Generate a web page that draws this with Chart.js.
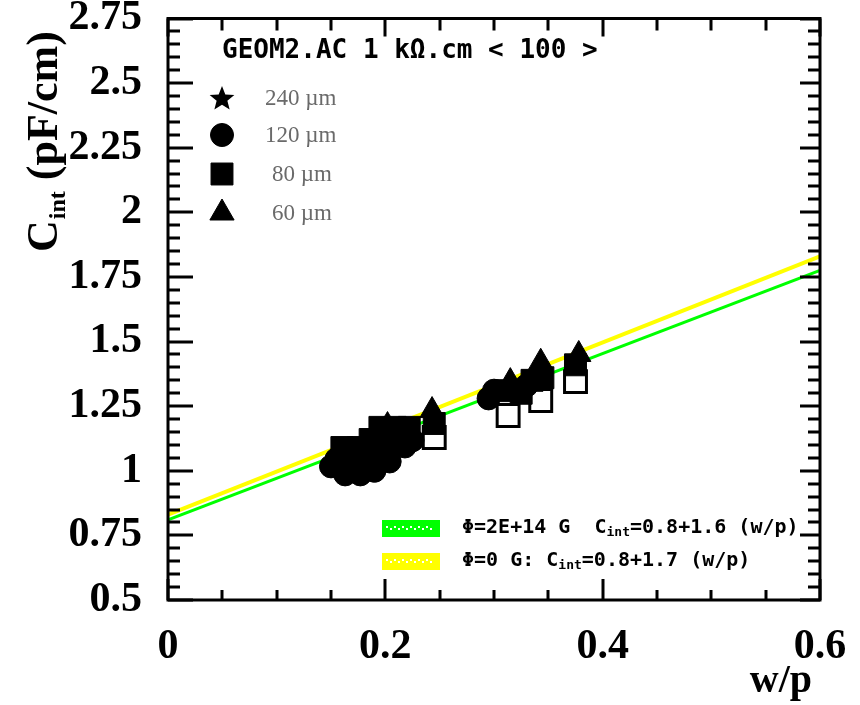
<!DOCTYPE html>
<html>
<head>
<meta charset="utf-8">
<script src="https://cdn.jsdelivr.net/npm/chart.js@4/dist/chart.umd.min.js"></script>
<style>
html, body { margin: 0; padding: 0; background: #fff; }
canvas { display: block; }
</style>
</head>
<body>
<canvas id="chart" width="860" height="705"></canvas>
<script>
// C_int versus w/p, one array pair per strip pitch
const pitch240X = [0.185, 0.200, 0.170];
const pitch240Y = [1.07, 1.12, 1.04];

const pitch120X = [0.150, 0.163, 0.177, 0.191, 0.204, 0.218, 0.225, 0.206, 0.177, 0.163,
                   0.155, 0.170, 0.185, 0.190, 0.198, 0.213, 0.295, 0.300, 0.330];
const pitch120Y = [1.017, 0.986, 0.986, 1.017, 1.036, 1.094, 1.118, 1.098, 1.060, 1.060,
                   1.045, 1.025, 1.040, 1.000, 1.070, 1.130, 1.28, 1.31, 1.33];

const pitch80X = [0.160, 0.175, 0.186, 0.195, 0.209, 0.222, 0.190, 0.209, 0.245,
                  0.310, 0.325, 0.335, 0.345, 0.375];
const pitch80Y = [1.090, 1.090, 1.121, 1.168, 1.168, 1.168, 1.079, 1.118, 1.183,
                  1.31, 1.30, 1.35, 1.36, 1.41];

const pitch60X = [0.202, 0.243, 0.315, 0.343, 0.378];
const pitch60Y = [1.175, 1.233, 1.345, 1.42, 1.45];

// irradiated strips (open markers)
const irradX = [0.245, 0.313, 0.343, 0.375];
const irradY = [1.129, 1.214, 1.272, 1.345];

// linear fits, end points at w/p = 0 and 0.6
const fitX = [0, 0.6];
const fitIrradY = [0.81, 1.775];
const fitCleanY = [0.83, 1.83];

const yTicks = [0.5, 0.75, 1, 1.25, 1.5, 1.75, 2, 2.25, 2.5, 2.75];
const xTicks = [0, 0.2, 0.4, 0.6];

const legendLabels = ["240 \u00b5m", "120 \u00b5m", "80 \u00b5m", "60 \u00b5m"];
const titleText = "GEOM2.AC 1 k\u03a9.cm < 100 >";

const zip = (xs, ys) => xs.map((x, i) => ({ x, y: ys[i] }));

// filled five point star for the 240 um marker
function makeStar(size) {
    const c = document.createElement("canvas");
    c.width = size; c.height = size;
    const g = c.getContext("2d");
    const cx = size / 2, cy = size / 2 + 1;
    const ro = size / 2, ri = size / 4.6;
    g.beginPath();
    for (let i = 0; i < 10; i++) {
        const r = i % 2 ? ri : ro;
        const a = -Math.PI / 2 + i * Math.PI / 5;
        g.lineTo(cx + r * Math.cos(a), cy + r * Math.sin(a));
    }
    g.closePath();
    g.fillStyle = "#000";
    g.fill();
    return c;
}
const starImg = makeStar(26);

const black = { backgroundColor: "#000", borderColor: "#000", borderWidth: 1, showLine: false };

const datasets = [
    { label: legendLabels[0], data: zip(pitch240X, pitch240Y), pointStyle: starImg, pointRadius: 12, order: 1, ...black },
    { label: legendLabels[1], data: zip(pitch120X, pitch120Y), pointStyle: "circle", pointRadius: 11.5, order: 1, ...black },
    { label: legendLabels[2], data: zip(pitch80X, pitch80Y), pointStyle: "rect", pointRadius: 15.5, order: 1, ...black },
    { label: legendLabels[3], data: zip(pitch60X, pitch60Y), pointStyle: "triangle", pointRadius: 14, order: 1, ...black },
    {
        label: "irradiated", data: zip(irradX, irradY), pointStyle: "rect", pointRadius: 15.5,
        backgroundColor: "#fff", borderColor: "#000", borderWidth: 3, showLine: false, order: 2
    },
    {
        label: "fit 0", data: zip(fitX, fitCleanY), showLine: true, pointRadius: 0,
        borderColor: "#ffff00", borderWidth: 4, order: 4
    },
    {
        label: "fit irr", data: zip(fitX, fitIrradY), showLine: true, pointRadius: 0,
        borderColor: "#00ff00", borderWidth: 3, order: 3
    }
];

const SERIF = "'Liberation Serif', 'Times New Roman', serif";
const MONO = "'DejaVu Sans Mono', monospace";

const fmtTick = (v) => String(+Number(v).toFixed(2));

// ROOT-like frame with ticks pointing inwards
const framePlugin = {
    id: "frame",
    afterDraw(chart) {
        const { ctx, chartArea: a, scales: { x, y } } = chart;
        ctx.save();
        ctx.strokeStyle = "#000";
        ctx.lineWidth = 3;
        ctx.beginPath();
        for (let i = 0; i <= 45; i++) {
            const py = Math.round(y.getPixelForValue(0.5 + i * 0.05));
            const major = i % 5 === 0;
            ctx.moveTo(a.left, py); ctx.lineTo(a.left + (major ? 25 : 12), py);
            ctx.moveTo(a.right, py); ctx.lineTo(a.right - (major ? 20 : 12), py);
        }
        for (let i = 0; i <= 12; i++) {
            const px = Math.round(x.getPixelForValue(i * 0.05));
            const major = i % 4 === 0;
            ctx.moveTo(px, a.bottom); ctx.lineTo(px, a.bottom - (major ? 21 : 10));
            ctx.moveTo(px, a.top); ctx.lineTo(px, a.top + (major ? 18 : 12));
        }
        ctx.stroke();
        ctx.strokeRect(a.left, a.top, a.right - a.left, a.bottom - a.top);
        ctx.restore();
    }
};

// titles, marker legend and fit legend
const textPlugin = {
    id: "texts",
    afterDatasetsDraw(chart) {
        const ctx = chart.ctx;
        ctx.save();

        // y axis title, rotated
        ctx.save();
        ctx.translate(57, 252);
        ctx.rotate(-Math.PI / 2);
        ctx.fillStyle = "#000";
        ctx.textBaseline = "alphabetic";
        ctx.textAlign = "left";
        ctx.font = "bold 44px " + SERIF;
        ctx.fillText("C", 0, 0);
        let w = ctx.measureText("C").width;
        ctx.font = "bold 24px " + SERIF;
        ctx.fillText("int", w + 1, 8);
        w += ctx.measureText("int").width + 1;
        ctx.font = "bold 44px " + SERIF;
        ctx.fillText(" (pF/cm)", w, 0);
        ctx.restore();

        // x axis title
        ctx.font = "bold 40px " + SERIF;
        ctx.textAlign = "right";
        ctx.textBaseline = "alphabetic";
        ctx.fillStyle = "#000";
        ctx.fillText("w/p", 812, 692);

        // title inside the frame
        ctx.font = "bold 26px " + MONO;
        ctx.textAlign = "left";
        ctx.textBaseline = "middle";
        ctx.fillText(titleText, 222, 51);

        // marker legend
        const rowsY = [98, 135, 174, 213];
        const textX = [265, 265, 272, 272];
        for (let i = 0; i < 4; i++) {
            const ds = chart.data.datasets[i];
            ctx.fillStyle = "#000";
            ctx.strokeStyle = "#000";
            ctx.lineWidth = 1;
            Chart.helpers.drawPoint(ctx, {
                pointStyle: ds.pointStyle, radius: ds.pointRadius, rotation: 0, borderWidth: 1
            }, 222, rowsY[i]);
            ctx.font = "23px " + SERIF;
            ctx.fillStyle = "#6a6a6a";
            ctx.textAlign = "left";
            ctx.textBaseline = "middle";
            ctx.fillText(legendLabels[i], textX[i], rowsY[i] + 1);
        }

        // fit legend
        const fits = [
            { color: "#00ff00", y: 528, pre: "\u03a6=2E+14 G  C", post: "=0.8+1.6 (w/p)" },
            { color: "#ffff00", y: 561, pre: "\u03a6=0 G: C", post: "=0.8+1.7 (w/p)" }
        ];
        for (const f of fits) {
            ctx.fillStyle = f.color;
            ctx.fillRect(382, f.y - 8, 58, 17);
            ctx.fillStyle = "#fff";
            for (let k = 0; k < 12; k++) {
                ctx.fillRect(386 + k * 4, f.y - 2 + (k % 2) * 2, 2, 2);
            }
            ctx.fillStyle = "#000";
            ctx.textAlign = "left";
            ctx.textBaseline = "middle";
            ctx.font = "bold 20px " + MONO;
            let tx = 462;
            ctx.fillText(f.pre, tx, f.y);
            tx += ctx.measureText(f.pre).width;
            ctx.font = "bold 13px " + MONO;
            ctx.fillText("int", tx, f.y + 5);
            tx += ctx.measureText("int").width;
            ctx.font = "bold 20px " + MONO;
            ctx.fillText(f.post, tx, f.y);
        }
        ctx.restore();
    }
};

new Chart(document.getElementById("chart"), {
    type: "scatter",
    data: { datasets },
    options: {
        responsive: false,
        animation: false,
        devicePixelRatio: 1,
        layout: { padding: { top: 17, right: 40, left: 0, bottom: 0 } },
        plugins: { legend: { display: false }, tooltip: { enabled: false } },
        scales: {
            x: {
                type: "linear",
                min: 0, max: 0.6,
                afterFit(scale) {
                    scale.height = 105;
                    scale.paddingLeft = 0; scale.paddingRight = 0;
                },
                afterBuildTicks(scale) { scale.ticks = xTicks.map(v => ({ value: v })); },
                grid: { display: false },
                border: { display: false },
                ticks: {
                    color: "#000",
                    padding: 14,
                    maxRotation: 0,
                    font: { family: SERIF, size: 42, weight: "bold" },
                    callback: fmtTick
                }
            },
            y: {
                type: "linear",
                min: 0.5, max: 2.75,
                afterFit(scale) {
                    scale.width = 168;
                    scale.paddingTop = 0; scale.paddingBottom = 0;
                },
                afterBuildTicks(scale) { scale.ticks = yTicks.map(v => ({ value: v })); },
                grid: { display: false },
                border: { display: false },
                ticks: {
                    color: "#000",
                    padding: 18,
                    font: { family: SERIF, size: 42, weight: "bold" },
                    callback: fmtTick
                }
            }
        }
    },
    plugins: [framePlugin, textPlugin]
});
</script>
</body>
</html>
